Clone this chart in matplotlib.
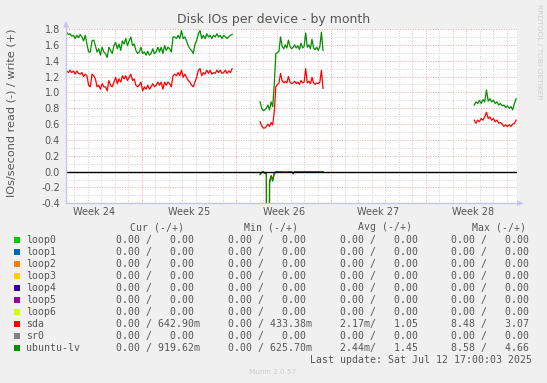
import numpy as np
import matplotlib
matplotlib.use("Agg")
import matplotlib.pyplot as plt
from matplotlib.patches import Rectangle, Polygon

W, H = 547, 383

# ---------------- data ----------------
title = "Disk IOs per device - by month"
ylabel = "IOs/second read (-) / write (+)"
week_labels = ["Week 24", "Week 25", "Week 26", "Week 27", "Week 28"]
week_label_days = [2.1, 9.1, 16.1, 23.1, 30.1]
week_boundary_days = [5.6, 12.6, 19.6, 26.6]
x_range_days = (0.0, 33.32)
y_range = (-0.4, 1.8)

seg1_days = (0.05, 12.28)
seg2_days = (14.35, 19.0)
seg3_days = (30.18, 33.28)

lv_write_seg1 = [1.76, 1.73, 1.74, 1.71, 1.72, 1.68, 1.72, 1.69, 1.73, 1.70,
                 1.65, 1.72, 1.61, 1.51, 1.51, 1.65, 1.66, 1.59, 1.51, 1.55,
                 1.47, 1.57, 1.51, 1.49, 1.44, 1.57, 1.53, 1.49, 1.59, 1.63,
                 1.55, 1.61, 1.53, 1.65, 1.61, 1.68, 1.59, 1.65, 1.70, 1.59,
                 1.61, 1.53, 1.49, 1.51, 1.57, 1.49, 1.51, 1.47, 1.52, 1.47,
                 1.49, 1.55, 1.49, 1.51, 1.57, 1.51, 1.57, 1.49, 1.59, 1.53,
                 1.57, 1.55, 1.51, 1.70, 1.70, 1.68, 1.72, 1.68, 1.78, 1.68,
                 1.70, 1.65, 1.59, 1.55, 1.53, 1.49, 1.61, 1.65, 1.74, 1.78,
                 1.68, 1.72, 1.68, 1.74, 1.70, 1.72, 1.68, 1.72, 1.70, 1.74,
                 1.70, 1.72, 1.68, 1.72, 1.70, 1.68, 1.70, 1.72, 1.73]
sda_write_seg1 = [1.27, 1.25, 1.28, 1.25, 1.27, 1.23, 1.27, 1.24, 1.23, 1.25,
                  1.20, 1.23, 1.21, 1.09, 1.07, 1.23, 1.21, 1.17, 1.07, 1.09,
                  1.04, 1.11, 1.07, 1.07, 1.02, 1.15, 1.09, 1.07, 1.13, 1.19,
                  1.11, 1.17, 1.13, 1.21, 1.17, 1.21, 1.15, 1.19, 1.23, 1.15,
                  1.17, 1.09, 1.07, 1.09, 1.13, 1.02, 1.07, 1.04, 1.09, 1.04,
                  1.07, 1.11, 1.07, 1.09, 1.13, 1.09, 1.13, 1.04, 1.13, 1.09,
                  1.13, 1.11, 1.07, 1.21, 1.23, 1.21, 1.25, 1.21, 1.28, 1.19,
                  1.23, 1.19, 1.15, 1.13, 1.09, 1.07, 1.13, 1.19, 1.28, 1.30,
                  1.21, 1.25, 1.23, 1.28, 1.24, 1.28, 1.23, 1.25, 1.24, 1.28,
                  1.25, 1.28, 1.24, 1.25, 1.28, 1.24, 1.27, 1.25, 1.30]

lv_write_seg2 = [0.88, 0.80, 0.77, 0.78, 0.80, 0.84, 0.78, 0.88, 0.82, 1.10,
                 1.49, 1.50, 1.52, 1.70, 1.58, 1.55, 1.60, 1.56, 1.66, 1.58,
                 1.55, 1.57, 1.60, 1.56, 1.59, 1.54, 1.62, 1.56, 1.58, 1.75,
                 1.57, 1.60, 1.55, 1.67, 1.56, 1.54, 1.57, 1.53, 1.58, 1.76,
                 1.53]
sda_write_seg2 = [0.63, 0.58, 0.55, 0.55, 0.57, 0.60, 0.57, 0.62, 0.59, 0.75,
                  1.07, 1.10, 1.12, 1.24, 1.15, 1.12, 1.14, 1.12, 1.20, 1.13,
                  1.11, 1.12, 1.14, 1.11, 1.13, 1.10, 1.15, 1.12, 1.13, 1.30,
                  1.12, 1.14, 1.11, 1.19, 1.12, 1.10, 1.12, 1.11, 1.13, 1.28,
                  1.05]
lv_read_seg2 = [0.04, 0.01, 0.00, 0.02, 0.03, 8.58, 0.15, 0.06, 0.12, 0.03,
                0.01, 0.00, 0.00, 0.00, 0.00, 0.00, 0.00, 0.00, 0.00, 0.00,
                0.00, 0.03, 0.00, 0.00, 0.00, 0.00, 0.00, 0.00, 0.00, 0.00,
                0.00, 0.00, 0.00, 0.00, 0.00, 0.00, 0.00, 0.00, 0.00, 0.00,
                0.00]
sda_read_seg2 = [0.03, 0.01, 0.00, 0.02, 0.02, 8.48, 0.12, 0.05, 0.10, 0.02,
                 0.00, 0.00, 0.00, 0.00, 0.00, 0.00, 0.00, 0.00, 0.00, 0.00,
                 0.00, 0.02, 0.00, 0.00, 0.00, 0.00, 0.00, 0.00, 0.00, 0.00,
                 0.00, 0.00, 0.00, 0.00, 0.00, 0.00, 0.00, 0.00, 0.00, 0.00,
                 0.00]

lv_write_seg3 = [0.84, 0.88, 0.86, 0.90, 0.86, 0.91, 0.88, 1.03, 0.89, 0.92,
                 0.88, 0.90, 0.86, 0.88, 0.84, 0.86, 0.83, 0.84, 0.81, 0.83,
                 0.80, 0.82, 0.78, 0.86, 0.92]
sda_write_seg3 = [0.65, 0.61, 0.65, 0.63, 0.67, 0.65, 0.69, 0.75, 0.67, 0.69,
                  0.65, 0.67, 0.63, 0.65, 0.61, 0.62, 0.60, 0.57, 0.59, 0.57,
                  0.59, 0.57, 0.60, 0.61, 0.65]

# legend table
names = ["loop0", "loop1", "loop2", "loop3", "loop4", "loop5", "loop6",
         "sda", "sr0", "ubuntu-lv"]
colors = ["#00CC00", "#0066B3", "#FF8000", "#FFCC00", "#330099", "#990099",
          "#CCFF00", "#FF0000", "#808080", "#008F00"]
cur_read = [0, 0, 0, 0, 0, 0, 0, 0, 0, 0]
cur_write = [0, 0, 0, 0, 0, 0, 0, 0.64290, 0, 0.91962]
min_read = [0, 0, 0, 0, 0, 0, 0, 0, 0, 0]
min_write = [0, 0, 0, 0, 0, 0, 0, 0.43338, 0, 0.62570]
avg_read = [0, 0, 0, 0, 0, 0, 0, 0.00217, 0, 0.00244]
avg_write = [0, 0, 0, 0, 0, 0, 0, 1.05, 0, 1.45]
max_read = [0, 0, 0, 0, 0, 0, 0, 8.48, 0, 8.58]
max_write = [0, 0, 0, 0, 0, 0, 0, 3.07, 0, 4.66]
headers = ["Cur (-/+)", "Min (-/+)", "Avg (-/+)", "Max (-/+)"]
last_update = "Last update: Sat Jul 12 17:00:03 2025"
version = "Munin 2.0.57"
watermark = "RRDTOOL / TOBI OETIKER"

# ---------------- styling ----------------
TXT = "#555555"
MAJOR = "#eba5a5"
MINOR = "#cfcfcf"
AXISC = "#c4c4f4"
SANS = "DejaVu Sans"
MONO = "DejaVu Sans Mono"

fig = plt.figure(figsize=(W / 100, H / 100), dpi=100, facecolor="#F0F0F0")

L, R, T, B = 66.0, 516.7, 29.0, 203.3
ax = fig.add_axes([L / W, 1 - B / H, (R - L) / W, (B - T) / H])
ax.set_facecolor("white")
ax.set_xlim(*x_range_days)
ax.set_ylim(*y_range)
for s in ax.spines.values():
    s.set_visible(False)

# grid
day_lines = np.arange(week_boundary_days[0] - 5, x_range_days[1], 1.0)
day_lines = [d for d in day_lines
             if all(abs(d - w) > 1e-6 for w in week_boundary_days) and d > 0]
ax.vlines(day_lines, y_range[0], y_range[1], colors=MINOR, lw=0.7,
          linestyles=(0, (1, 1.6)), zorder=1)
ax.vlines(week_boundary_days, y_range[0], y_range[1], colors=MAJOR, lw=0.7,
          linestyles=(0, (1, 1.6)), zorder=1)
minor_y = np.arange(-0.3, 1.8, 0.2)
major_y = np.arange(-0.4, 1.81, 0.2)
ax.hlines(minor_y, *x_range_days, colors=MINOR, lw=0.7,
          linestyles=(0, (1, 1.6)), zorder=1)
ax.hlines(major_y, *x_range_days, colors=MAJOR, lw=0.7,
          linestyles=(0, (1, 1.6)), zorder=1)


def seg_t(bounds, vals):
    return np.linspace(bounds[0], bounds[1], len(vals))


segs = [
    (seg1_days, sda_write_seg1, lv_write_seg1, None, None),
    (seg2_days, sda_write_seg2, lv_write_seg2, sda_read_seg2, lv_read_seg2),
    (seg3_days, sda_write_seg3, lv_write_seg3, None, None),
]
for bounds, sw, lw_, sr, lr in segs:
    if sr is not None:
        ax.plot(seg_t(bounds, sr), -np.array(sr), color=colors[7], lw=0.9, zorder=3)
        ax.plot(seg_t(bounds, lr), -np.array(lr), color=colors[9], lw=0.9, zorder=3)
    ax.plot(seg_t(bounds, sw), sw, color=colors[7], lw=0.9, zorder=3)
    ax.plot(seg_t(bounds, lw_), lw_, color=colors[9], lw=0.9, zorder=3)

ax.axhline(0, color="black", lw=1.0, zorder=4)

ax.set_yticks(major_y)
ax.set_yticklabels([f"{v:.1f}" for v in major_y])
ax.set_xticks(week_label_days)
ax.set_xticklabels(week_labels)
ax.tick_params(axis="both", length=0, labelsize=7, labelcolor=TXT)
ax.tick_params(axis="y", pad=4.3)
ax.tick_params(axis="x", pad=3.0)

# overlay in pixel coordinates
ov = fig.add_axes([0, 0, 1, 1], zorder=10)
ov.set_xlim(0, W)
ov.set_ylim(H, 0)
ov.axis("off")
ov.patch.set_visible(False)

# axis lines with arrows
ov.plot([L, L], [B, 23], color=AXISC, lw=1.0)
ov.add_patch(Polygon([[L - 3, 27.5], [L + 3, 27.5], [L, 21]], closed=True,
                     color=AXISC, lw=0))
ov.plot([L, 519], [B, B], color=AXISC, lw=1.0)
ov.add_patch(Polygon([[517, B - 3], [517, B + 3], [523.5, B]], closed=True,
                     color=AXISC, lw=0))

ov.text(273.5, 19.5, title, ha="center", va="center", fontsize=9,
        color=TXT, family=SANS)
ov.text(12, 113, ylabel, ha="center", va="center", rotation=90, fontsize=8.1,
        color=TXT, family=SANS)
ov.text(539, 4, watermark, ha="center", va="top", rotation=270, fontsize=5.4,
        color="#cfcfcf", family=SANS)


def fmt(v):
    if v == 0:
        return "  0.00 "
    if abs(v) < 1:
        return f"{v * 1000:6.2f}m"
    return f"{v:6.2f} "


MS = 7.1
head_x = [129.5, 244.0, 358.0, 472.5]
block_x = [104.2, 216.5, 327.5, 439.2]
for hx, htxt in zip(head_x, headers):
    ov.text(hx, 227.5, htxt, ha="left", va="center", fontsize=MS, color=TXT,
            family=MONO)

row0, dy = 240.0, 12.0
for i, name in enumerate(names):
    y = row0 + i * dy
    ov.add_patch(Rectangle((13.5, y - 3), 6, 6, color=colors[i], lw=0))
    ov.text(26, y, name, ha="left", va="center", fontsize=MS, color=TXT,
            family=MONO)
    pairs = [(cur_read[i], cur_write[i]), (min_read[i], min_write[i]),
             (avg_read[i], avg_write[i]), (max_read[i], max_write[i])]
    for bx, (r, w) in zip(block_x, pairs):
        ov.text(bx, y, fmt(r) + "/ " + fmt(w), ha="left", va="center",
                fontsize=MS, color=TXT, family=MONO)

ov.text(532, row0 + 10 * dy, last_update, ha="right", va="center", fontsize=MS,
        color=TXT, family=MONO)
ov.text(273, row0 + 11 * dy + 0.5, version, ha="center", va="center",
        fontsize=5.2, color="#cccccc", family=SANS)

fig.savefig("out.png", dpi=100, facecolor=fig.get_facecolor())
